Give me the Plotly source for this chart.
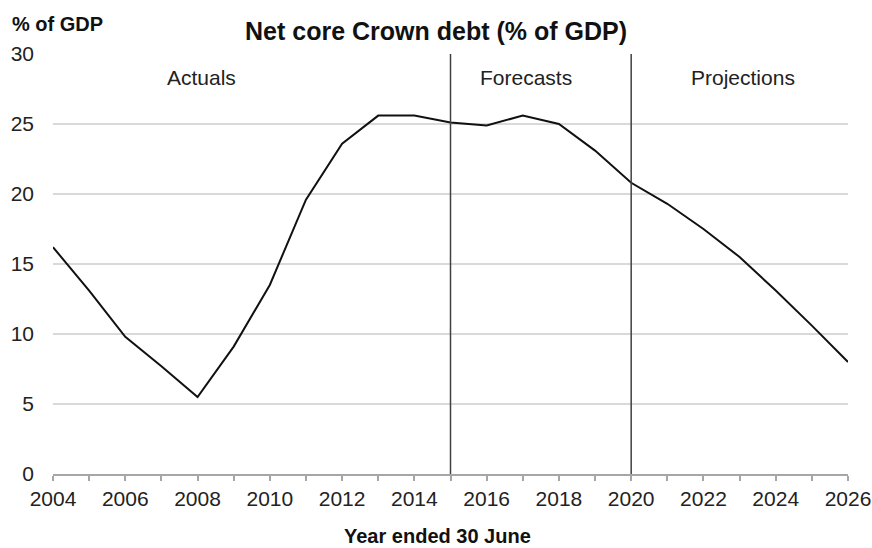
import plotly.graph_objects as go

years = list(range(2004, 2027))
debt = [16.2, 13.1, 9.8, 7.7, 5.5, 9.1, 13.5, 19.6, 23.6, 25.6, 25.6, 25.1,
        24.9, 25.6, 25.0, 23.1, 20.8, 19.3, 17.5, 15.5, 13.1, 10.6, 8.0]
y_ticks = [0, 5, 10, 15, 20, 25, 30]
x_ticks = list(range(2004, 2027, 2))
dividers = [2015, 2020]
section_labels = ["Actuals", "Forecasts", "Projections"]
section_x = [2008.1, 2017.1, 2023.1]

font = "Liberation Sans, Arial, sans-serif"
PW, PH = 795, 420  # plot area size in px (for paper coords)

fig = go.Figure()
fig.add_trace(go.Scatter(x=years, y=debt, mode="lines",
                         line=dict(color="#111111", width=2), showlegend=False,
                         hoverinfo="x+y"))

for d in dividers:
    fig.add_shape(type="line", xref="x", yref="y", x0=d, x1=d,
                  y0=-0.3 if d == 2015 else 0, y1=30,
                  line=dict(color="#404040", width=1.5))

for lbl, xv in zip(section_labels, section_x):
    fig.add_annotation(x=xv, y=28.3, xref="x", yref="y", text=lbl,
                       showarrow=False, font=dict(family=font, size=21, color="#222222"))

fig.add_annotation(x=(10 - 53) / PW, y=1 + (54 - 24) / PH, xref="paper", yref="paper",
                   xanchor="left", yanchor="middle",
                   text="<b>% of GDP</b>", showarrow=False,
                   font=dict(family=font, size=20, color="#111111"))
fig.add_annotation(x=(437 - 53) / PW, y=(474 - 536) / PH, xref="paper", yref="paper",
                   xanchor="center", yanchor="middle",
                   text="<b>Year ended 30 June</b>", showarrow=False,
                   font=dict(family=font, size=20, color="#111111"))

fig.update_layout(
    width=872, height=548,
    margin=dict(l=53, r=24, t=54, b=74, autoexpand=False),
    paper_bgcolor="white", plot_bgcolor="white",
    title=dict(text="<b>Net core Crown debt (% of GDP)</b>", x=436 / 872, xanchor="center",
               y=1 - 31 / 548, yanchor="middle",
               font=dict(family=font, size=25, color="#111111")),
    xaxis=dict(range=[2004, 2026], tickmode="array", tickvals=x_ticks,
               ticktext=[str(v) for v in x_ticks], automargin=False,
               showgrid=False, showline=True, linecolor="#a6a6a6", linewidth=1.5,
               ticks="outside", ticklen=5, tickcolor="#a6a6a6", tickwidth=1.5,
               minor=dict(ticks="outside", ticklen=5, tickcolor="#a6a6a6", tickwidth=1.5,
                          dtick=1, showgrid=False),
               tickfont=dict(family=font, size=21, color="#222222"),
               zeroline=False),
    yaxis=dict(range=[0, 30], tickmode="array", tickvals=y_ticks, automargin=False,
               showgrid=True, gridcolor="#d9d9d9", gridwidth=1.5,
               showline=False, zeroline=False, ticks="", ticklabelstandoff=18,
               tickfont=dict(family=font, size=21, color="#222222")),
)

fig.write_html("out.html")
